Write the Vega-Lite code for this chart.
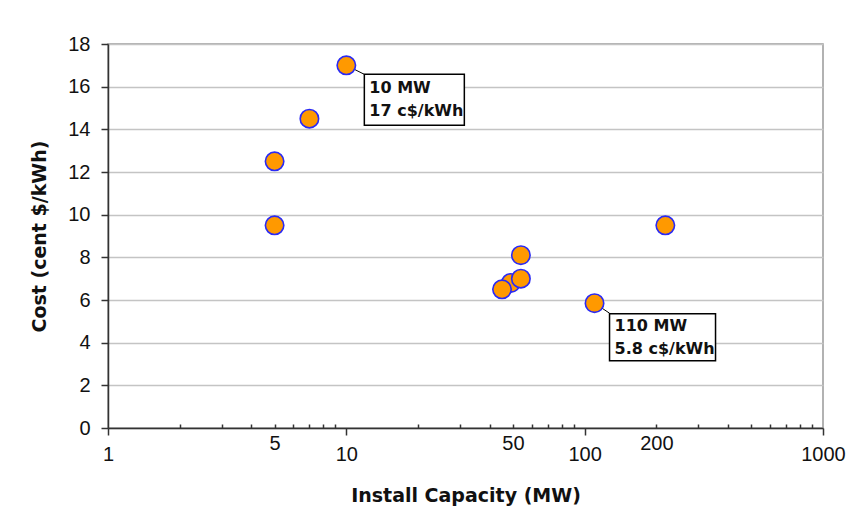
{
  "$schema": "https://vega.github.io/schema/vega-lite/v6.json",
  "width": 715,
  "height": 384,
  "autosize": "none",
  "padding": {"left": 108, "top": 44, "right": 25, "bottom": 84},
  "background": "white",
  "config": {
    "view": {"stroke": "#999999", "strokeWidth": 1.5},
    "axis": {"labelFont": "Liberation Sans", "labelFontSize": 20, "labelColor": "#111111", "titleFont": "DejaVu Sans", "titleFontSize": 19, "titleFontWeight": "bold", "titleColor": "#111111", "domainColor": "#333333", "domainWidth": 1.5, "tickColor": "#333333", "tickWidth": 1.5}
  },
  "data": {
    "values": [
      {"capacity": 5, "cost": 12.5},
      {"capacity": 5, "cost": 9.5},
      {"capacity": 7, "cost": 14.5},
      {"capacity": 10, "cost": 17, "label": "10 MW\n17 c$/kWh"},
      {"capacity": 49, "cost": 6.8},
      {"capacity": 45, "cost": 6.5},
      {"capacity": 54, "cost": 7.0},
      {"capacity": 54, "cost": 8.1},
      {"capacity": 110, "cost": 5.85, "label": "110 MW\n5.8 c$/kWh"},
      {"capacity": 218, "cost": 9.5}
    ]
  },
  "encoding": {
    "x": {
      "field": "capacity", "type": "quantitative",
      "scale": {"type": "log", "domain": [1, 1000], "nice": false},
      "axis": {
        "title": "Install Capacity (MW)",
        "values": [1,2,3,4,5,6,7,8,9,10,20,30,40,50,60,70,80,90,100,200,300,400,500,600,700,800,900,1000],
        "format": "d",
        "labelExpr": "indexof([1,5,10,50,100,200,1000], datum.value) >= 0 ? datum.label : ''",
        "labelOverlap": false, "labelBound": false, "labelFlush": false,
        "tickSize": {"condition": {"test": "indexof([1,10,100,1000], datum.value) >= 0", "value": 7}, "value": -4},
        "labelPadding": 9,
        "titlePadding": 22,
        "grid": false
      }
    },
    "y": {
      "field": "cost", "type": "quantitative",
      "scale": {"domain": [0, 18], "nice": false},
      "axis": {
        "title": "Cost (cent $/kWh)",
        "values": [0,2,4,6,8,10,12,14,16,18],
        "tickSize": 7, "labelPadding": 11, "titlePadding": 18,
        "grid": true, "gridColor": "#c4c4c4", "gridWidth": 1.5
      }
    }
  },
  "layer": [
    {
      "transform": [{"filter": "datum.capacity == 10"}],
      "mark": {"type": "rule", "color": "#000000", "strokeWidth": 1, "x2Offset": 18, "y2Offset": 9},
      "encoding": {"x2": {"field": "capacity"}, "y2": {"field": "cost"}}
    },
    {
      "transform": [{"filter": "datum.capacity == 110"}],
      "mark": {"type": "rule", "color": "#000000", "strokeWidth": 1, "x2Offset": 15, "y2Offset": 10},
      "encoding": {"x2": {"field": "capacity"}, "y2": {"field": "cost"}}
    },
    {
      "transform": [{"filter": "datum.capacity == 10"}],
      "mark": {"type": "rect", "fill": "white", "stroke": "black", "strokeWidth": 1.5, "width": 100, "height": 51, "xOffset": 68, "yOffset": 34.5}
    },
    {
      "transform": [{"filter": "datum.capacity == 110"}],
      "mark": {"type": "rect", "fill": "white", "stroke": "black", "strokeWidth": 1.5, "width": 106, "height": 47, "xOffset": 68, "yOffset": 34}
    },
    {
      "transform": [{"filter": "datum.capacity == 10"}],
      "mark": {"type": "text", "align": "left", "baseline": "top", "font": "DejaVu Sans", "fontWeight": "bold", "fontSize": 16, "lineHeight": 23, "lineBreak": "\n", "color": "#111111", "xOffset": 23, "yOffset": 15},
      "encoding": {"text": {"field": "label"}}
    },
    {
      "transform": [{"filter": "datum.capacity == 110"}],
      "mark": {"type": "text", "align": "left", "baseline": "top", "font": "DejaVu Sans", "fontWeight": "bold", "fontSize": 16, "lineHeight": 23, "lineBreak": "\n", "color": "#111111", "xOffset": 20, "yOffset": 15},
      "encoding": {"text": {"field": "label"}}
    },
    {
      "mark": {"type": "point", "shape": "circle", "filled": true, "fill": "#FF9900", "stroke": "#2A2AF5", "strokeWidth": 1.6, "size": 340, "opacity": 1}
    }
  ]
}
